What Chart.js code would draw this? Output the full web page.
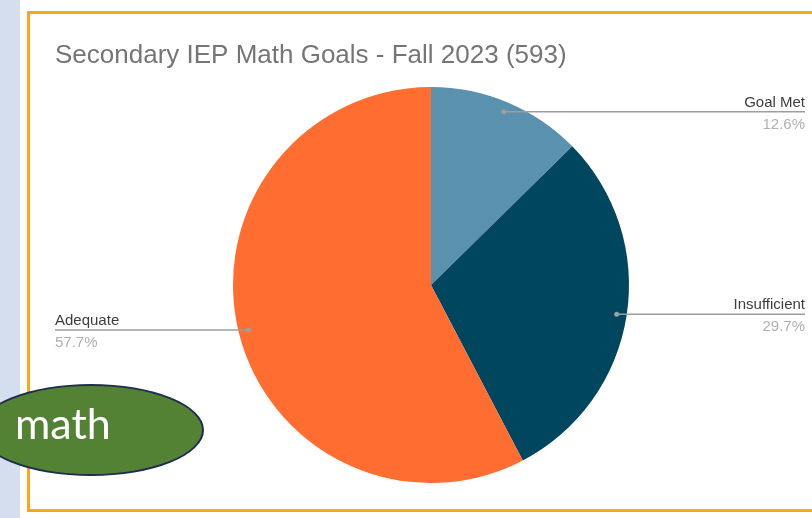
<!DOCTYPE html>
<html>
<head>
<meta charset="utf-8">
<script src="https://cdn.jsdelivr.net/npm/chart.js@4"></script>
<style>
  html, body { margin: 0; padding: 0; background: #ffffff; }
  #wrap { position: relative; width: 812px; height: 518px; overflow: hidden; }
  #strip { position: absolute; left: 0; top: 0; width: 20px; height: 518px; background: #d4deee; }
  #frame { position: absolute; left: 27px; top: 11px; width: 820px; height: 495px; border: 3px solid #ffa41c; }
  #chart { position: absolute; left: 0; top: 0; }
  #bubble {
    position: absolute; left: -22px; top: 384px; width: 226px; height: 92px;
    background: #548235; border: 2.5px solid #1f2d4e; border-radius: 50%;
    box-sizing: border-box;
  }
  #bubble span {
    position: absolute; left: 35px; top: 11px;
    font-family: Lato, "Open Sans", sans-serif; font-size: 43px; color: #ffffff;
  }
</style>
</head>
<body>
<div id="wrap">
  <div id="strip"></div>
  <div id="frame"></div>
  <canvas id="chart" width="812" height="518"></canvas>
  <div id="bubble"><span>math</span></div>
</div>
<script>
const chartTitle = 'Secondary IEP Math Goals - Fall 2023 (593)';
const categories = ['Goal Met', 'Insufficient', 'Adequate'];
const counts = [75, 176, 342];
const percentLabels = ['12.6%', '29.7%', '57.7%'];

const sliceColors = ['#5a91af', '#00465f', '#ff6d30'];

const calloutPlugin = {
    id: 'callouts',
    afterDraw(chart) {
        const ctx = chart.ctx;
        ctx.save();
        // title
        ctx.font = '26px "Liberation Sans", Arial, sans-serif';
        ctx.fillStyle = '#757575';
        ctx.textAlign = 'left';
        ctx.textBaseline = 'alphabetic';
        ctx.fillText(chartTitle, 55, 63);

        const arcs = chart.getDatasetMeta(0).data;
        arcs.forEach((arc, i) => {
            const mid = (arc.startAngle + arc.endAngle) / 2;
            const r = arc.outerRadius - 10;
            const ax = arc.x + Math.cos(mid) * r;
            const ay = arc.y + Math.sin(mid) * r;
            const right = Math.cos(mid) > 0;
            const endX = right ? 805 : 55;

            ctx.strokeStyle = '#9e9e9e';
            ctx.lineWidth = 1.5;
            ctx.beginPath();
            ctx.moveTo(ax, ay);
            ctx.lineTo(endX, ay);
            ctx.stroke();

            ctx.fillStyle = '#9e9e9e';
            ctx.beginPath();
            ctx.arc(ax, ay, 2.5, 0, Math.PI * 2);
            ctx.fill();

            ctx.textAlign = right ? 'right' : 'left';
            ctx.font = '15px "Liberation Sans", Arial, sans-serif';
            ctx.fillStyle = '#3d3d3d';
            ctx.fillText(categories[i], endX, ay - 5);
            ctx.fillStyle = '#b0b0b0';
            ctx.fillText(percentLabels[i], endX, ay + 17);
        });
        ctx.restore();
    }
};

document.addEventListener('DOMContentLoaded', function () {
    const ctx = document.getElementById('chart').getContext('2d');
    new Chart(ctx, {
        type: 'pie',
        data: {
            labels: categories,
            datasets: [{
                data: counts,
                backgroundColor: sliceColors,
                borderWidth: 0
            }]
        },
        options: {
            responsive: false,
            animation: false,
            layout: { padding: { top: 87, bottom: 35, left: 233, right: 183 } },
            plugins: {
                legend: { display: false },
                tooltip: { enabled: false },
                title: { display: false }
            }
        },
        plugins: [calloutPlugin]
    });
});
</script>
</body>
</html>
